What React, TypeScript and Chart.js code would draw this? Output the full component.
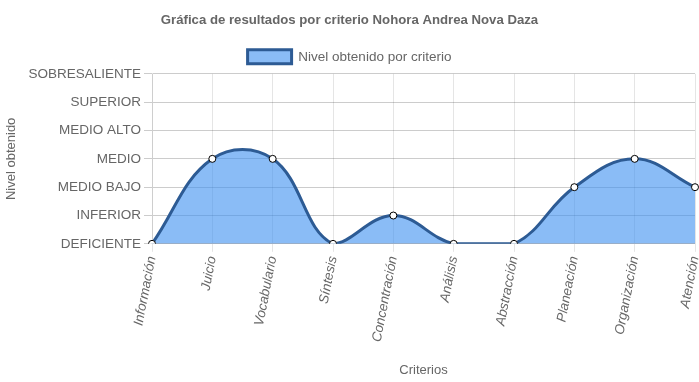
import React, { useEffect, useRef } from "react";
import { Chart, registerables } from "chart.js";

Chart.register(...registerables);

const categories = ["Información", "Juicio", "Vocabulario", "Síntesis", "Concentración", "Análisis", "Abstracción", "Planeación", "Organización", "Atención"];
const levels = [0, 3, 3, 0, 1, 0, 0, 2, 3, 2];
const levelLabels = ["DEFICIENTE", "INFERIOR", "MEDIO BAJO", "MEDIO", "MEDIO ALTO", "SUPERIOR", "SOBRESALIENTE"];

export default function App() {
  const ref = useRef<HTMLCanvasElement>(null);
  useEffect(() => {
    const font = "'Liberation Sans', Arial, sans-serif";
    Chart.defaults.font.family = font;
    Chart.defaults.color = "#666";
    const chart = new Chart(ref.current!, {
      type: "line",
      data: {
        labels: categories,
        datasets: [
          {
            label: "Nivel obtenido por criterio",
            data: levels,
            fill: true,
            backgroundColor: "rgba(60,143,240,0.6)",
            borderColor: "#2d5b94",
            borderWidth: 3,
            tension: 0.4,
            pointBackgroundColor: "#fff",
            pointBorderColor: "#000",
            pointBorderWidth: 1,
            pointRadius: 3.5,
          },
        ],
      },
      options: {
        animation: false,
        responsive: true,
        maintainAspectRatio: false,
        plugins: {
          title: {
            display: true,
            text: "Gráfica de resultados por criterio Nohora Andrea Nova Daza",
            font: { size: 13.2, weight: "bold" },
            color: "#666",
            padding: { top: 12, bottom: 13 },
          },
          legend: {
            display: true,
            labels: { boxWidth: 44, boxHeight: 14, font: { size: 13.5 }, color: "#666", padding: 9 },
          },
          tooltip: { enabled: false },
        },
        scales: {
          x: {
            title: { display: true, text: "Criterios", font: { size: 13 }, color: "#666", padding: { top: 16, bottom: 4 } },
            ticks: { font: { size: 13.5, style: "italic" }, color: "#666", maxRotation: 90, minRotation: 79 },
            grid: { color: "rgba(0,0,0,0.1)" },
            afterFit: (s: any) => {
              s.paddingRight = 9;
            },
          },
          y: {
            min: 0,
            max: 6,
            title: { display: true, text: "Nivel obtenido", font: { size: 13 }, color: "#666", padding: { top: 9, bottom: 4 } },
            ticks: {
              stepSize: 1,
              font: { size: 13.5 },
              color: "#666",
              callback: (v: any) => levelLabels[v as number] ?? "",
            },
            grid: { color: "rgba(0,0,0,0.2)" },
            afterFit: (s: any) => {
              s.width = 157;
            },
          },
        },
      },
    });
    return () => chart.destroy();
  }, []);
  return (
    <div style={{ position: "absolute", left: -5, top: 0, width: 709, height: 382 }}>
      <canvas ref={ref} />
    </div>
  );
}
